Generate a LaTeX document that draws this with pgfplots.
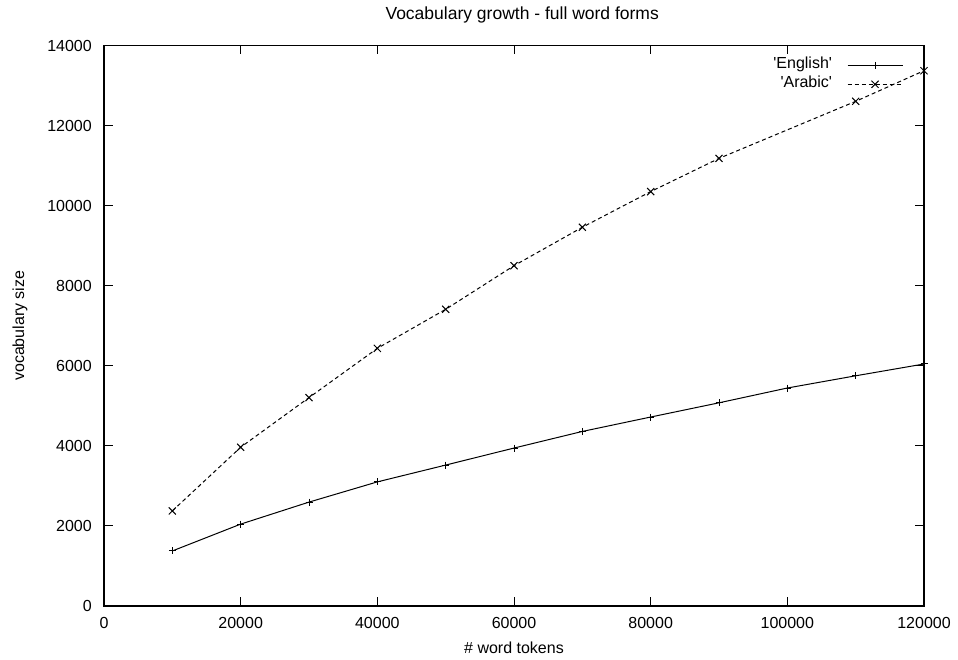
\documentclass[border=0pt]{standalone}
\usepackage{fontspec}
\setmainfont{Liberation Sans}
\usepackage{pgfplots}
\pgfplotsset{compat=1.18}
\begin{document}
\fontsize{16bp}{19bp}\selectfont
\begin{tikzpicture}
\useasboundingbox (-104bp,-54bp) rectangle (854bp,606bp);
\begin{axis}[
  scale only axis, width=820bp, height=560.5bp,
  at={(0,0)}, anchor=south west,
  xmin=0, xmax=120000, ymin=0, ymax=14000,
  xtick={0,20000,...,120000}, ytick={0,2000,...,14000},
  scaled ticks=false,
  /pgf/number format/fixed, /pgf/number format/precision=0,
  /pgf/number format/1000 sep={}, /pgf/number format/assume math mode=true,
  tick align=inside, tick pos=both, major tick length=9bp,
  axis line style={line width=1.2bp},
  every tick/.style={line width=1bp, black},
  font=\fontsize{16bp}{19bp}\selectfont,
  title={Vocabulary growth - full word forms},
  title style={at={(axis description cs:0.51,1.0365)}, anchor=base, inner sep=0pt, font=\fontsize{17.5bp}{21bp}\selectfont},
  xlabel={\# word tokens},
  xlabel style={at={(axis description cs:0.5,-0.0749)}, anchor=center, inner sep=0pt},
  ylabel={vocabulary size},
  ylabel style={at={(axis description cs:-0.1024,0.5)}, anchor=center, inner sep=0pt},
  yticklabel style={anchor=east, inner sep=0pt, xshift=-12bp},
  xticklabel style={anchor=north, inner sep=0pt, yshift=-11bp},
  clip=false,
  legend plot pos=right,
  legend cell align=right,
  legend style={draw=none, fill=none, at={(axis description cs:1,1)}, anchor=north east,
    xshift=-21bp, yshift=-10.3bp, inner sep=0pt, outer sep=0pt, column sep=15bp, row sep=0pt,
    font=\fontsize{16bp}{19bp}\selectfont,
    nodes={inner xsep=0pt, inner ysep=2bp, text height=11bp, text depth=4bp}},
  legend image code/.code={\draw[mark repeat=2,mark phase=2,#1] plot coordinates {(0bp,0bp) (27.5bp,0bp) (55bp,0bp)};},
]
\addplot[black, line width=1bp, mark=+, mark size=3.5bp, mark options={solid, line width=1bp}] coordinates {
(10000,1375) (20000,2045) (30000,2595) (40000,3100) (50000,3520) (60000,3945)
(70000,4360) (80000,4720) (90000,5075) (100000,5445) (110000,5750) (120000,6045)
};
\addlegendentry{\textquotesingle English\textquotesingle}
\addplot[black, line width=1bp, dash pattern=on 4bp off 3bp, mark=x, mark size=5bp, mark options={solid, line width=1bp}] coordinates {
(10000,2375) (20000,3965) (30000,5205) (40000,6435) (50000,7410) (60000,8500)
(70000,9460) (80000,10350) (90000,11180) (110000,12605) (120000,13370)
};
\addlegendentry{\textquotesingle Arabic\textquotesingle}
\end{axis}
\end{tikzpicture}
\end{document}
